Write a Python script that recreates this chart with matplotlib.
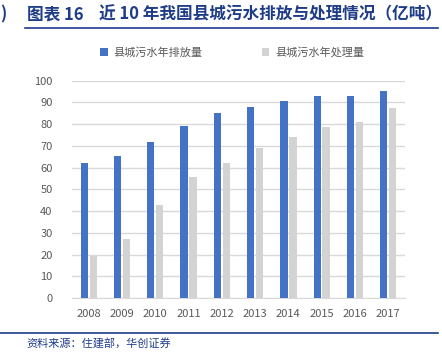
import numpy as np
import matplotlib.pyplot as plt
from matplotlib.lines import Line2D

plt.rcParams['font.family'] = ['Noto Sans CJK SC', 'DejaVu Sans']

# data (亿吨)
years = ['2008', '2009', '2010', '2011', '2012', '2013', '2014', '2015', '2016', '2017']
discharge = [62.0, 65.5, 71.8, 79.3, 85.3, 88.0, 90.7, 92.8, 92.8, 95.3]
treated = [19.3, 27.2, 42.9, 55.9, 62.0, 68.9, 74.3, 78.9, 81.0, 87.6]

blue = '#4472C4'
grey = '#D3D3D3'
navy = '#1F3C88'
text_c = '#595959'

fig = plt.figure(figsize=(4.42, 3.52), dpi=100)
ax = fig.add_axes([0.163, 0.153, 0.753, 0.618])

x = np.arange(len(years))
w = 0.22
ax.bar(x - 0.135, discharge, w, color=blue, label='县城污水年排放量', zorder=3)
ax.bar(x + 0.135, treated, w, color=grey, label='县城污水年处理量', zorder=3)

ax.set_xlim(-0.5, len(years) - 0.5)
ax.set_ylim(0, 100)
ax.set_yticks(range(0, 101, 10))
ax.set_xticks(x)
ax.set_xticklabels(years)
ax.grid(axis='y', color='#D9D9D9', linewidth=1.0, zorder=0)
for s in ['top', 'right', 'left']:
    ax.spines[s].set_visible(False)
ax.spines['bottom'].set_color('#D9D9D9')
ax.tick_params(axis='both', length=0, labelsize=8, colors=text_c)
ax.tick_params(axis='y', pad=14)
ax.tick_params(axis='x', pad=8)

leg = ax.legend(loc='lower left', bbox_to_anchor=(0.055, 1.06), ncol=2, frameon=False,
                fontsize=8, handlelength=0.7, handleheight=0.7, columnspacing=5.3,
                handletextpad=0.5)
for t in leg.get_texts():
    t.set_color(text_c)

# title and frame lines
fig.text(0.0, 0.96, ')', fontsize=12, color=navy, fontweight='bold', va='center')
fig.text(0.06, 0.96, '图表 16', fontsize=12, color=navy, fontweight='bold', va='center')
fig.text(0.224, 0.96, '近 10 年我国县城污水排放与处理情况（亿吨）',
         fontsize=12, color=navy, fontweight='bold', va='center')
fig.add_artist(Line2D([0.057, 0.99], [0.92, 0.92], color=navy, linewidth=1.2))
fig.add_artist(Line2D([0.0, 0.99], [0.054, 0.054], color=navy, linewidth=1.2))
fig.text(0.06, 0.022, '资料来源：住建部，华创证券', fontsize=8, color=navy,
         style='italic', va='center')

fig.savefig('out.png', dpi=100)
